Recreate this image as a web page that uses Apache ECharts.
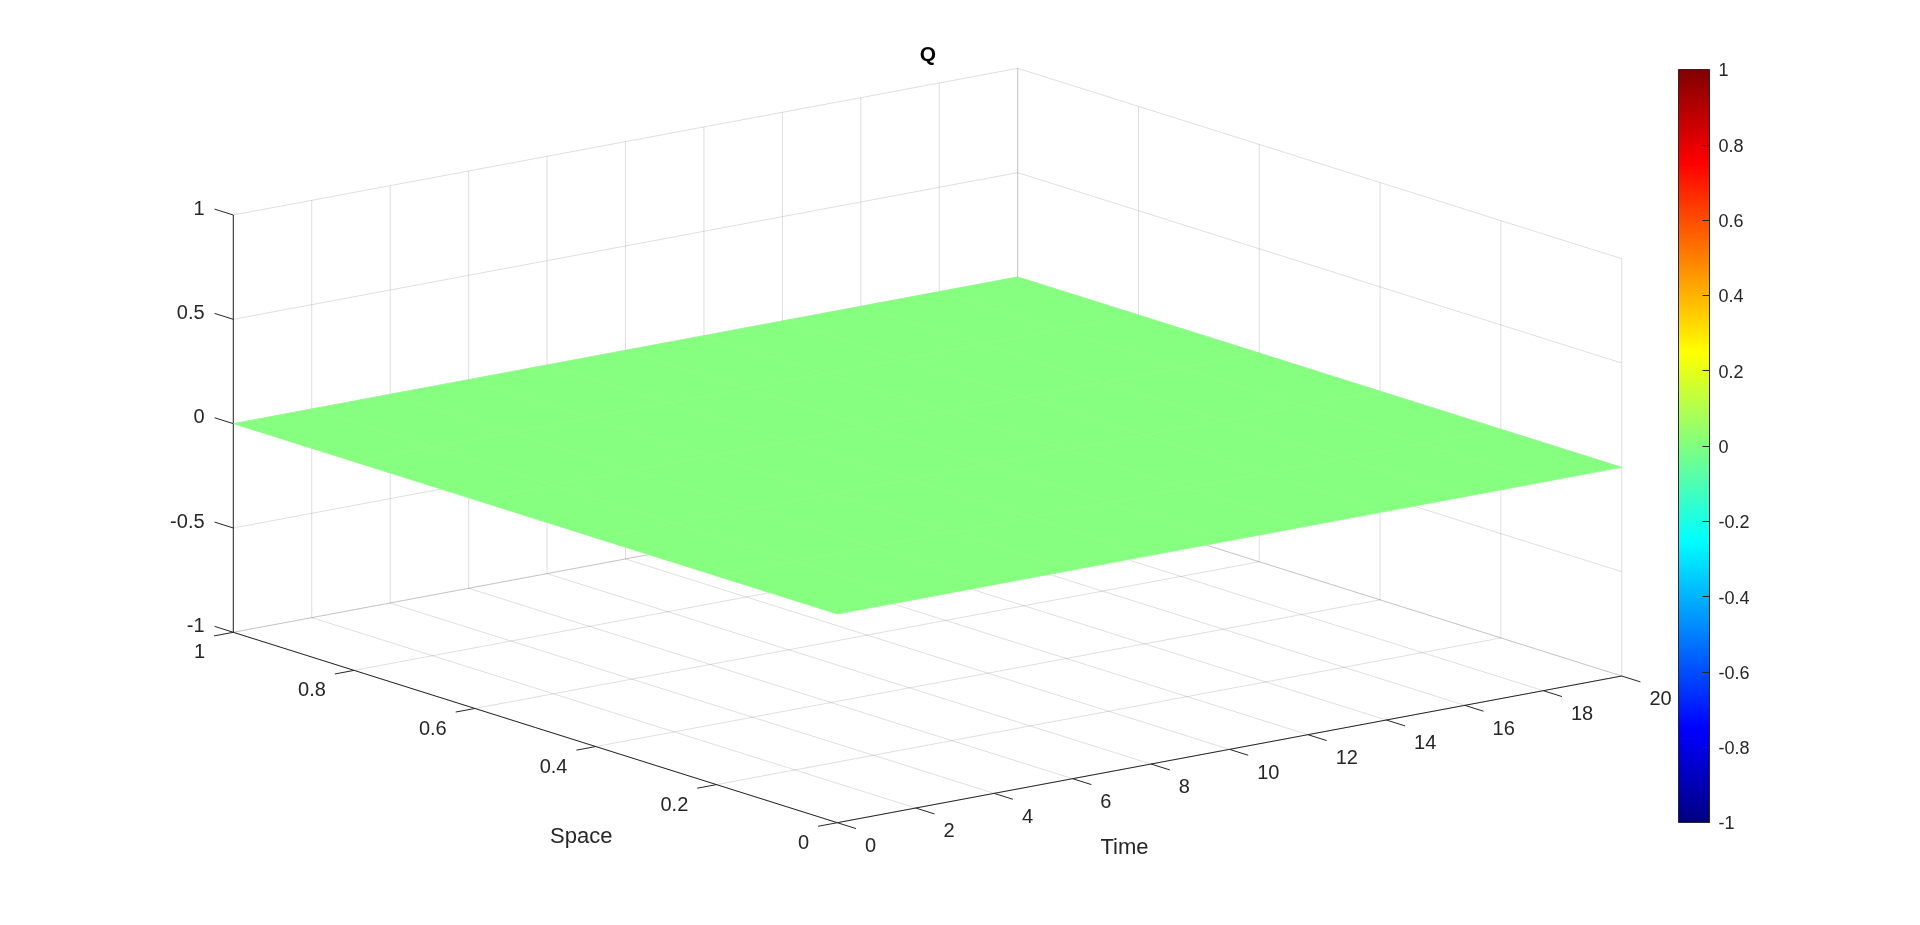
<!DOCTYPE html>
<html>
<head>
<meta charset="utf-8">
<style>html,body{margin:0;padding:0;background:#fff}#c{width:1920px;height:925px}</style>
<script src="https://cdn.jsdelivr.net/npm/echarts@6/dist/echarts.min.js"></script>
</head>
<body>
<div id="c"></div>
<script>
// Data
const titleText = 'Q';
const timeName = 'Time';
const spaceName = 'Space';
const timeTicks = [0, 2, 4, 6, 8, 10, 12, 14, 16, 18, 20];
const spaceTicks = [0, 0.2, 0.4, 0.6, 0.8, 1];
const zTicks = [-1, -0.5, 0, 0.5, 1];
const colorbarTicks = [-1, -0.8, -0.6, -0.4, -0.2, 0, 0.2, 0.4, 0.6, 0.8, 1];
const colorbarRange = [-1, 1];
const colorbarStep = 0.2;
// Q over (space rows, time columns): flat zero everywhere
const qValues = [
  [0, 0, 0, 0, 0, 0, 0, 0, 0, 0, 0],
  [0, 0, 0, 0, 0, 0, 0, 0, 0, 0, 0],
  [0, 0, 0, 0, 0, 0, 0, 0, 0, 0, 0],
  [0, 0, 0, 0, 0, 0, 0, 0, 0, 0, 0],
  [0, 0, 0, 0, 0, 0, 0, 0, 0, 0, 0],
  [0, 0, 0, 0, 0, 0, 0, 0, 0, 0, 0]
];
const jetPositions = [0, 0.125, 0.375, 0.625, 0.875, 1];
const jetColors = ['#000080', '#0000ff', '#00ffff', '#ffff00', '#ff0000', '#800000'];
const surfaceColor = '#86ff80';

// View: orthographic projection of the 3D box onto the page scale
const view = { ox: 837.3, oy: 822.7, tx: 784.4, ty: -146.7, sx: -604, sy: -190.4, zy: -417.3 };
const tMax = timeTicks[timeTicks.length - 1];
const zMin = zTicks[0], zMax = zTicks[zTicks.length - 1];
function project(t, s, z) {
  const u = t / tMax, w = (z - zMin) / (zMax - zMin);
  return [view.ox + u * view.tx + s * view.sx, view.oy + u * view.ty + s * view.sy + w * view.zy];
}

// Gridlines on floor and the two back walls
const gridSegs = [];
timeTicks.forEach(t => {
  gridSegs.push([t, 1, zMin, t, 1, zMax]);
  gridSegs.push([t, 0, zMin, t, 1, zMin]);
});
spaceTicks.forEach(s => {
  gridSegs.push([tMax, s, zMin, tMax, s, zMax]);
  gridSegs.push([0, s, zMin, tMax, s, zMin]);
});
zTicks.forEach(z => {
  gridSegs.push([0, 1, z, tMax, 1, z]);
  gridSegs.push([tMax, 0, z, tMax, 1, z]);
});

// Axis lines and ticks
const tickS = 0.031, tickT = 0.49;
const axisSegs = [
  [0, 1, zMin, 0, 1, zMax],
  [0, 0, zMin, 0, 1, zMin],
  [0, 0, zMin, tMax, 0, zMin]
];
timeTicks.forEach(t => axisSegs.push([t, 0, zMin, t, -tickS, zMin]));
spaceTicks.forEach(s => axisSegs.push([0, s, zMin, -tickT, s, zMin]));
zTicks.forEach(z => axisSegs.push([0, 1, z, 0, 1 + tickS, z]));

// Surface cells
const cells = [];
for (let i = 0; i < spaceTicks.length - 1; i++) {
  for (let j = 0; j < timeTicks.length - 1; j++) {
    cells.push([i, j]);
  }
}

// Text anchored to the projected box
const labels = [];
timeTicks.forEach(t => labels.push({ p: [t, -tickS, zMin], text: String(t), dx: 9, dy: 18, align: 'left' }));
spaceTicks.forEach(s => labels.push({ p: [-tickT, s, zMin], text: String(s), dx: -9, dy: 17, align: 'right' }));
zTicks.forEach(z => labels.push({ p: [0, 1 + tickS, z], text: String(z), dx: -10, dy: 0, align: 'right' }));
const names = [
  { p: [0, 0.5, zMin], text: spaceName, dx: 46, dy: 109, align: 'center' },
  { p: [tMax / 2, 0, zMin], text: timeName, dx: -105, dy: 99, align: 'center' }
];

const ink = '#262626';
const font = 'Liberation Sans, Arial, sans-serif';

function segRender(style) {
  return function (params, api) {
    const a = api.coord(project(api.value(0), api.value(1), api.value(2)));
    const b = api.coord(project(api.value(3), api.value(4), api.value(5)));
    return { type: 'line', shape: { x1: a[0], y1: a[1], x2: b[0], y2: b[1] }, style: style, silent: true };
  };
}
function textRender(items, size) {
  return function (params, api) {
    const it = items[params.dataIndex];
    const c = api.coord(project(it.p[0], it.p[1], it.p[2]));
    return {
      type: 'text', x: c[0] + it.dx, y: c[1] + it.dy, silent: true,
      style: { text: it.text, fill: ink, font: size + 'px ' + font, textAlign: it.align, textVerticalAlign: 'middle' }
    };
  };
}
const stops = jetPositions.map((p, i) => ({ offset: p, color: jetColors[i] }));

const chart = echarts.init(document.getElementById('c'), null, { renderer: 'canvas' });
chart.setOption({
  animation: false,
  backgroundColor: '#fff',
  title: {
    text: titleText, left: 923, top: 40, textAlign: 'center',
    textStyle: { fontFamily: font, fontSize: 21, fontWeight: 'bold', color: '#000' }
  },
  grid: [
    { left: 0, top: 0, width: 1920, height: 925, show: false },
    { left: 1678.5, top: 69.5, width: 31, height: 753, show: false }
  ],
  xAxis: [
    { gridIndex: 0, type: 'value', min: 0, max: 1920, show: false },
    { gridIndex: 1, type: 'value', min: 0, max: 1, show: false }
  ],
  yAxis: [
    { gridIndex: 0, type: 'value', min: 0, max: 925, inverse: true, show: false },
    {
      gridIndex: 1, type: 'value', position: 'right', min: colorbarRange[0], max: colorbarRange[1], interval: colorbarStep, z: 5,
      axisLine: { show: false, onZero: false },
      splitLine: { show: false },
      axisTick: { show: true, inside: true, length: 7, lineStyle: { color: ink, width: 1 } },
      axisLabel: { show: false }
    }
  ],
  series: [
    {
      type: 'custom', xAxisIndex: 0, yAxisIndex: 0, silent: true, z: 1,
      data: gridSegs, renderItem: segRender({ stroke: 'rgba(38,38,38,0.15)', lineWidth: 1 })
    },
    {
      type: 'custom', xAxisIndex: 0, yAxisIndex: 0, silent: true, z: 2,
      data: axisSegs, renderItem: segRender({ stroke: ink, lineWidth: 1 })
    },
    {
      type: 'custom', xAxisIndex: 0, yAxisIndex: 0, silent: true, z: 3,
      data: cells,
      renderItem: function (params, api) {
        const i = api.value(0), j = api.value(1);
        const corners = [[j, i], [j + 1, i], [j + 1, i + 1], [j, i + 1]].map(q =>
          api.coord(project(timeTicks[q[0]], spaceTicks[q[1]], qValues[q[1]][q[0]])));
        return {
          type: 'polygon', shape: { points: corners }, silent: true,
          style: { fill: surfaceColor, stroke: surfaceColor, lineWidth: 0.6 }
        };
      }
    },
    {
      type: 'custom', xAxisIndex: 0, yAxisIndex: 0, silent: true, z: 4,
      data: labels.map((d, i) => [i]), renderItem: textRender(labels, 20)
    },
    {
      type: 'custom', xAxisIndex: 0, yAxisIndex: 0, silent: true, z: 4,
      data: names.map((d, i) => [i]), renderItem: textRender(names, 22)
    },
    {
      type: 'custom', xAxisIndex: 1, yAxisIndex: 1, silent: true, z: 3,
      data: [[0, colorbarRange[0], 1, colorbarRange[1]]],
      renderItem: function (params, api) {
        const a = api.coord([api.value(0), api.value(3)]);
        const b = api.coord([api.value(2), api.value(1)]);
        return {
          type: 'rect', shape: { x: a[0], y: a[1], width: b[0] - a[0], height: b[1] - a[1] }, silent: true,
          style: {
            fill: { type: 'linear', x: 0, y: 1, x2: 0, y2: 0, colorStops: stops },
            stroke: ink, lineWidth: 1
          }
        };
      }
    },
    {
      type: 'custom', xAxisIndex: 1, yAxisIndex: 1, silent: true, z: 4,
      data: colorbarTicks.map(v => [1, v]),
      renderItem: function (params, api) {
        const c = api.coord([api.value(0), api.value(1)]);
        return {
          type: 'text', x: c[0] + 9, y: c[1] + 2, silent: true,
          style: { text: String(colorbarTicks[params.dataIndex]), fill: ink, font: '18px ' + font, textAlign: 'left', textVerticalAlign: 'middle' }
        };
      }
    }
  ]
});
</script>
</body>
</html>
